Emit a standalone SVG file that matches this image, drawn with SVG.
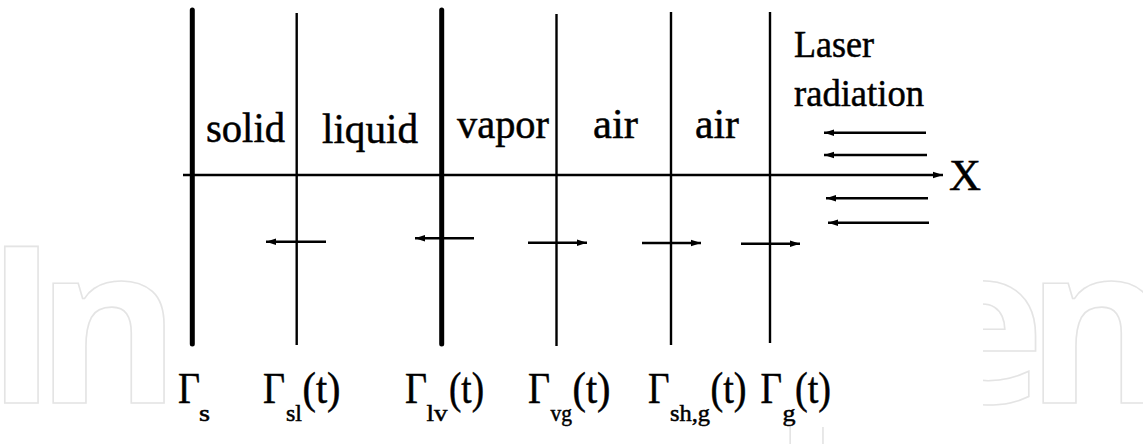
<svg xmlns="http://www.w3.org/2000/svg" width="1143" height="444" viewBox="0 0 1143 444">
<style>
.wm{font-size:220px;font-weight:700;fill:#ffffff;stroke:#e4e4e4;stroke-width:1.6}
.thick{stroke:#000;stroke-width:5;stroke-linecap:round;fill:none}
.thin{stroke:#000;stroke-width:2.4;fill:none}
.arr{stroke:#000;stroke-width:2.6;fill:none}
.lbl{font-size:43px;fill:#000}
.las{font-size:38px;fill:#000}
.big{font-size:44px;fill:#000}
.sub{font-size:23px;fill:#000}
#texts text{stroke:#000;stroke-width:0.5}
</style>
<defs>
<marker id="ah" markerUnits="userSpaceOnUse" markerWidth="10" markerHeight="8" refX="10" refY="4" orient="auto">
<path d="M0,0.8 L10,4 L0,7.2 z" fill="#000"/>
</marker>
</defs>
<rect width="1143" height="444" fill="#fff"/>
<g id="watermark" font-family="Open Sans, Liberation Sans, sans-serif">
<text class="wm" x="-15" y="403">I</text>
<text class="wm" x="36" y="403">n</text>
<text class="wm" x="773" y="403">p</text>
<text class="wm" x="915" y="403">e</text>
<text class="wm" x="1026" y="403">n</text>
<rect x="168" y="0" width="815" height="427" fill="#fff"/>
</g>
<g id="boundaries">
<g id="gamma-s"><line class="thick" x1="192.3" y1="10" x2="192.3" y2="344"/></g>
<g id="gamma-sl"><line class="thin" x1="296.7" y1="13" x2="296.7" y2="345"/></g>
<g id="gamma-lv"><line class="thick" x1="441.7" y1="10" x2="441.7" y2="344"/></g>
<g id="gamma-vg"><line class="thin" x1="556.5" y1="14" x2="556.5" y2="346"/></g>
<g id="gamma-shg"><line class="thin" x1="671" y1="12" x2="671" y2="345"/></g>
<g id="gamma-g"><line class="thin" x1="770" y1="12" x2="770" y2="343"/></g>
</g>
<g id="connectors">
<line class="thin" x1="183" y1="175" x2="943" y2="175" marker-end="url(#ah)"/>
<line class="arr" x1="926" y1="132.7" x2="824" y2="132.7" marker-end="url(#ah)"/>
<line class="arr" x1="927" y1="155" x2="824" y2="155" marker-end="url(#ah)"/>
<line class="arr" x1="928" y1="198.3" x2="826" y2="198.3" marker-end="url(#ah)"/>
<line class="arr" x1="929" y1="222.7" x2="828" y2="222.7" marker-end="url(#ah)"/>
<line class="arr" x1="326" y1="241.7" x2="266" y2="241.7" marker-end="url(#ah)"/>
<line class="arr" x1="474" y1="238.3" x2="415" y2="238.3" marker-end="url(#ah)"/>
<line class="arr" x1="528" y1="242.7" x2="587" y2="242.7" marker-end="url(#ah)"/>
<line class="arr" x1="642" y1="243" x2="701" y2="243" marker-end="url(#ah)"/>
<line class="arr" x1="741" y1="243.7" x2="800" y2="243.7" marker-end="url(#ah)"/>
</g>
<g id="texts" font-family="Liberation Serif, DejaVu Serif, Noto Serif, serif">
<g id="regions">
<text class="lbl" x="206" y="142" textLength="79" lengthAdjust="spacingAndGlyphs">solid</text>
<text class="lbl" x="322" y="143" textLength="96" lengthAdjust="spacingAndGlyphs">liquid</text>
<text class="lbl" x="457" y="138" textLength="92" lengthAdjust="spacingAndGlyphs">vapor</text>
<text class="lbl" x="593" y="138" textLength="45" lengthAdjust="spacingAndGlyphs">air</text>
<text class="lbl" x="695" y="138" textLength="44" lengthAdjust="spacingAndGlyphs">air</text>
</g>
<g id="laser">
<text class="las" x="794" y="57" textLength="80" lengthAdjust="spacingAndGlyphs">Laser</text>
<text class="las" x="794" y="106" textLength="130" lengthAdjust="spacingAndGlyphs">radiation</text>
</g>
<g id="axis-label"><text class="big" x="949" y="190" font-size="42" textLength="32" lengthAdjust="spacingAndGlyphs">X</text></g>
<g id="labels">
<g id="label-s">
<text class="big" x="178" y="402.7" textLength="22" lengthAdjust="spacingAndGlyphs">Γ</text>
<text class="sub" x="199" y="420.5" textLength="11" lengthAdjust="spacingAndGlyphs">s</text>
</g>
<g id="label-sl">
<text class="big" x="263" y="402.7" textLength="22" lengthAdjust="spacingAndGlyphs">Γ</text>
<text class="sub" x="286" y="420.5" textLength="16" lengthAdjust="spacingAndGlyphs">sl</text>
<text class="big" x="302.5" y="403" textLength="38" lengthAdjust="spacingAndGlyphs">(t)</text>
</g>
<g id="label-lv">
<text class="big" x="405" y="402.7" textLength="22" lengthAdjust="spacingAndGlyphs">Γ</text>
<text class="sub" x="426.5" y="420.5" textLength="21" lengthAdjust="spacingAndGlyphs">lv</text>
<text class="big" x="449" y="403" textLength="35" lengthAdjust="spacingAndGlyphs">(t)</text>
</g>
<g id="label-vg">
<text class="big" x="528" y="402.7" textLength="22" lengthAdjust="spacingAndGlyphs">Γ</text>
<text class="sub" x="550.5" y="420.5" textLength="21.5" lengthAdjust="spacingAndGlyphs">vg</text>
<text class="big" x="572.5" y="403" textLength="38" lengthAdjust="spacingAndGlyphs">(t)</text>
</g>
<g id="label-shg">
<text class="big" x="648" y="402.7" textLength="21.5" lengthAdjust="spacingAndGlyphs">Γ</text>
<text class="sub" x="670" y="420.5" textLength="40" lengthAdjust="spacingAndGlyphs">sh,g</text>
<text class="big" x="710.5" y="403" textLength="36" lengthAdjust="spacingAndGlyphs">(t)</text>
</g>
<g id="label-g">
<text class="big" x="760.5" y="402.7" textLength="21.5" lengthAdjust="spacingAndGlyphs">Γ</text>
<text class="sub" x="782.5" y="420.5" textLength="13" lengthAdjust="spacingAndGlyphs">g</text>
<text class="big" x="795" y="403" textLength="36" lengthAdjust="spacingAndGlyphs">(t)</text>
</g>
</g>
</g>
</svg>
